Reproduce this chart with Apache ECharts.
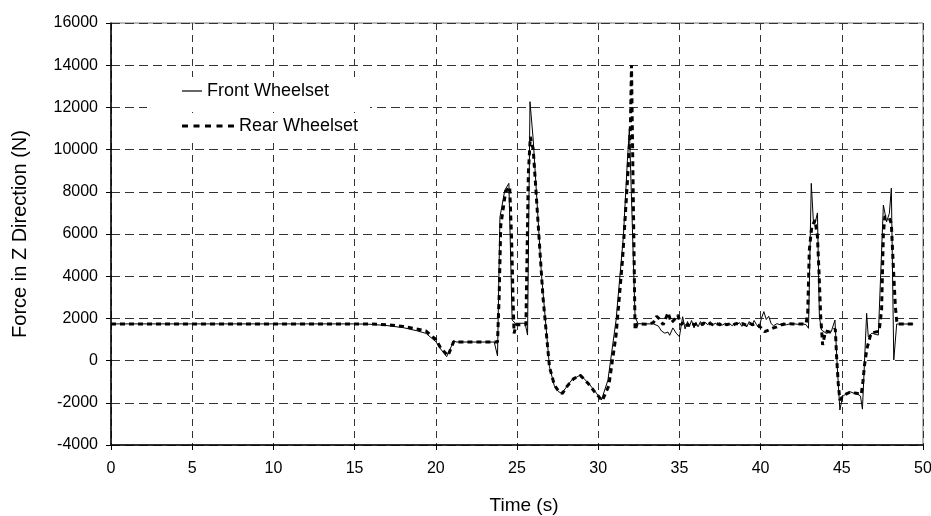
<!DOCTYPE html>
<html>
<head>
<meta charset="utf-8">
<script src="https://cdn.jsdelivr.net/npm/echarts@6/dist/echarts.min.js"></script>
<style>
html,body{margin:0;padding:0;background:#fff;}
#chart{width:931px;height:516px;}
</style>
</head>
<body>
<div id="chart"></div>
<script>
const seriesNames = ['Front Wheelset', 'Rear Wheelset'];
const xAxisTitle = 'Time (s)';
const yAxisTitle = 'Force in Z Direction (N)';

const frontTime = [
  0, 15, 16, 17, 18, 18.8, 19.4, 20.0, 20.3, 20.67,
  21.1, 21.3, 23.6, 23.8, 23.95, 24.25, 24.5, 24.7, 24.9, 25.5,
  25.65, 25.8, 26.0, 26.5, 27.0, 27.3, 27.55, 27.75, 28.0, 28.37,
  28.9, 29.4, 29.8, 30.2, 30.6, 31.1, 31.55, 31.8, 31.92, 32.27,
  32.45, 33.0, 33.4, 33.7, 33.9, 34.1, 34.3, 34.4, 34.6, 34.8,
  35.0, 35.2, 35.35, 35.5, 35.6, 35.75, 35.9, 36.0, 36.15, 36.3,
  36.45, 36.6, 36.75, 36.9, 37.05, 37.2, 37.35, 37.5, 37.65, 37.8,
  37.95, 38.1, 38.25, 38.4, 38.55, 38.7, 38.85, 39.0, 39.15, 39.3,
  39.45, 39.6, 39.75, 39.9, 40.05, 40.2, 40.35, 40.5, 40.65, 40.8,
  41.0, 41.2, 41.4, 41.6, 41.8, 42.0, 42.3, 42.6, 42.8, 42.95,
  43.12, 43.25, 43.35, 43.5, 43.62, 43.75, 44.05, 44.35, 44.58, 44.72,
  44.88, 45.05, 45.3, 45.5, 45.75, 46.0, 46.15, 46.27, 46.53, 46.63,
  46.85, 47.05, 47.25, 47.56, 47.76, 47.93, 48.05, 48.2, 48.38, 49.4
];
const frontForce = [
  1740, 1740, 1720, 1660, 1560, 1420, 1290, 900, 550, 185,
  920, 880, 880, 220, 6800, 8080, 8400, 1920, 1770, 1770,
  1210, 12270, 10450, 4140, -290, -1200, -1470, -1550, -1300, -920,
  -680, -1070, -1450, -1870, -920, 1920, 5870, 9500, 11000, 2080,
  1750, 1740, 1740, 1640, 1400, 1300, 1350, 1200, 1550, 1300,
  1130, 2080, 1500, 1850, 1600, 1900, 1550, 1800, 1600, 1850,
  1650, 1800, 1700, 1850, 1650, 1780, 1700, 1800, 1680, 1760,
  1700, 1750, 1650, 1780, 1700, 1800, 1620, 1750, 1600, 1850,
  1650, 1900, 1700, 1550, 2000, 2320, 1950, 2100, 1750, 1650,
  1750, 1700, 1780, 1700, 1740, 1750, 1720, 1740, 1700, 1530,
  8400, 6600, 6500, 7000, 2080, 1450, 1290, 1370, 1920, -280,
  -2340, -1700, -1550, -1470, -1550, -1600, -1680, -2300, 2240, 1130,
  1300, 1250, 1210, 7370, 6580, 6980, 8170, 30, 1735, 1735
];

const rearTime = [
  0, 15, 16, 17, 18, 18.8, 19.4, 20.0, 20.3, 20.75,
  21.1, 21.3, 23.8, 23.9, 24.0, 24.3, 24.55, 24.67, 24.77, 24.82,
  24.95, 25.55, 25.6, 25.7, 25.82, 26.0, 26.3, 26.6, 27.0, 27.3,
  27.6, 27.8, 28.1, 28.5, 28.9, 29.4, 29.8, 30.25, 30.65, 31.1,
  31.5, 31.8, 31.98, 32.05, 32.17, 32.27, 32.4, 33.0, 33.4, 33.6,
  33.8, 34.0, 34.3, 34.5, 34.7, 34.9, 35.1, 35.3, 35.5, 35.7,
  35.9, 36.1, 36.3, 36.5, 36.7, 36.9, 37.1, 37.3, 37.5, 37.7,
  37.9, 38.1, 38.3, 38.5, 38.7, 38.9, 39.1, 39.3, 39.5, 39.7,
  39.9, 40.1, 40.25, 40.5, 40.8, 41.0, 41.3, 41.6, 42.0, 42.8,
  42.9, 43.0, 43.15, 43.35, 43.5, 43.6, 43.7, 43.82, 44.0, 44.3,
  44.6, 44.68, 44.78, 44.88, 45.1, 45.5, 45.9, 46.2, 46.3, 46.4,
  46.55, 46.8, 47.3, 47.45, 47.56, 47.65, 47.9, 48.05, 48.17, 48.3,
  48.4, 49.4
];
const rearForce = [
  1740, 1740, 1740, 1700, 1620, 1500, 1400, 1000, 600, 230,
  900, 880, 880, 3000, 6400, 8000, 8240, 5710, 2550, 1290,
  1700, 1700, 4140, 8880, 10610, 10000, 6500, 3000, -300, -1150,
  -1500, -1550, -1200, -850, -700, -1100, -1500, -1900, -1200, 1200,
  4800, 8500, 11000, 14000, 14000, 1450, 1750, 1720, 1800, 2100,
  1950, 1700, 2270, 1800, 1950, 2160, 1700, 1850, 1650, 1800,
  1700, 1750, 1680, 1780, 1700, 1760, 1680, 1750, 1700, 1780,
  1700, 1740, 1680, 1760, 1700, 1750, 1680, 1780, 1700, 1750,
  1650, 1500, 1370, 1450, 1550, 1600, 1700, 1750, 1740, 1740,
  2240, 5240, 6350, 6660, 5870, 4140, 2080, 740, 1400, 1350,
  1500, 185, -1070, -1870, -1650, -1500, -1550, -1600, -1000, -210,
  580, 1300, 1400, 2400, 6000, 6820, 6800, 6500, 4500, 2550,
  1735, 1735
];

const xTicks = { min: 0, max: 50, interval: 5 };
const yTicks = { min: -4000, max: 16000, interval: 2000 };

function pairs(t, v) { return t.map((x, i) => [x, v[i]]); }

const font = 'Liberation Sans, Arial, sans-serif';
const frontIcon = 'path://M0,0 L20,0 L20,1.2 L0,1.2 Z';
const rearIcon = 'path://M0,0 L6,0 L6,3 L0,3 Z M11.5,0 L17.5,0 L17.5,3 L11.5,3 Z M23,0 L29,0 L29,3 L23,3 Z M34.5,0 L40.5,0 L40.5,3 L34.5,3 Z M46,0 L52,0 L52,3 L46,3 Z';

const chart = echarts.init(document.getElementById('chart'), null, { renderer: 'canvas' });
chart.setOption({
  animation: false,
  backgroundColor: '#fff',
  grid: { left: 111, right: 8, top: 23, bottom: 71, containLabel: false, outerBoundsMode: 'none',
    show: true, borderColor: '#777', borderWidth: 1, backgroundColor: 'transparent' },
  legend: [
    { id: 'lgFront', data: [{ name: seriesNames[0], icon: frontIcon }], left: 147, top: 77, itemWidth: 20, itemHeight: 10,
      symbolKeepAspect: true, itemStyle: { color: '#000' },
      textStyle: { fontFamily: font, fontSize: 18, color: '#000' },
      backgroundColor: '#fff', padding: [5, 41, 12, 35] },
    { id: 'lgRear', data: [{ name: seriesNames[1], icon: rearIcon }], left: 147, top: 113, itemWidth: 52, itemHeight: 10,
      symbolKeepAspect: true, itemStyle: { color: '#000' },
      textStyle: { fontFamily: font, fontSize: 18, color: '#000' },
      backgroundColor: '#fff', padding: [4, 12, 6, 35] }
  ],
  xAxis: {
    type: 'value', min: xTicks.min, max: xTicks.max, interval: xTicks.interval,
    name: xAxisTitle, nameLocation: 'middle', nameGap: 51,
    nameTextStyle: { fontFamily: font, fontSize: 19, color: '#000', padding: [0, 0, 0, 14] },
    axisLine: { onZero: false, lineStyle: { color: '#000', width: 1.5 } },
    axisTick: { show: true, length: 5, lineStyle: { color: '#000' } },
    axisLabel: { fontFamily: font, fontSize: 16, color: '#000', margin: 16 },
    splitLine: { show: true, lineStyle: { color: '#333', type: [7, 5], width: 1 } }
  },
  yAxis: {
    type: 'value', min: yTicks.min, max: yTicks.max, interval: yTicks.interval,
    name: yAxisTitle, nameLocation: 'middle', nameGap: 81, nameRotate: 90,
    nameTextStyle: { fontFamily: font, fontSize: 20, color: '#000' },
    axisLine: { show: true, lineStyle: { color: '#000', width: 1.5 } },
    axisTick: { show: true, length: 5, lineStyle: { color: '#000' } },
    axisLabel: { fontFamily: font, fontSize: 16, color: '#000', margin: 13, formatter: v => String(v) },
    splitLine: { show: true, lineStyle: { color: '#333', type: [9, 5], width: 1 } }
  },
  series: [
    { name: seriesNames[0], type: 'line', data: pairs(frontTime, frontForce), showSymbol: false, symbol: 'none',
      lineStyle: { color: '#000', width: 1 }, itemStyle: { color: '#000' }, z: 3 },
    { name: seriesNames[1], type: 'line', data: pairs(rearTime, rearForce), showSymbol: false, symbol: 'none',
      lineStyle: { color: '#000', width: 3, type: [5, 4] }, itemStyle: { color: '#000' }, z: 4 }
  ]
});
</script>
</body>
</html>
